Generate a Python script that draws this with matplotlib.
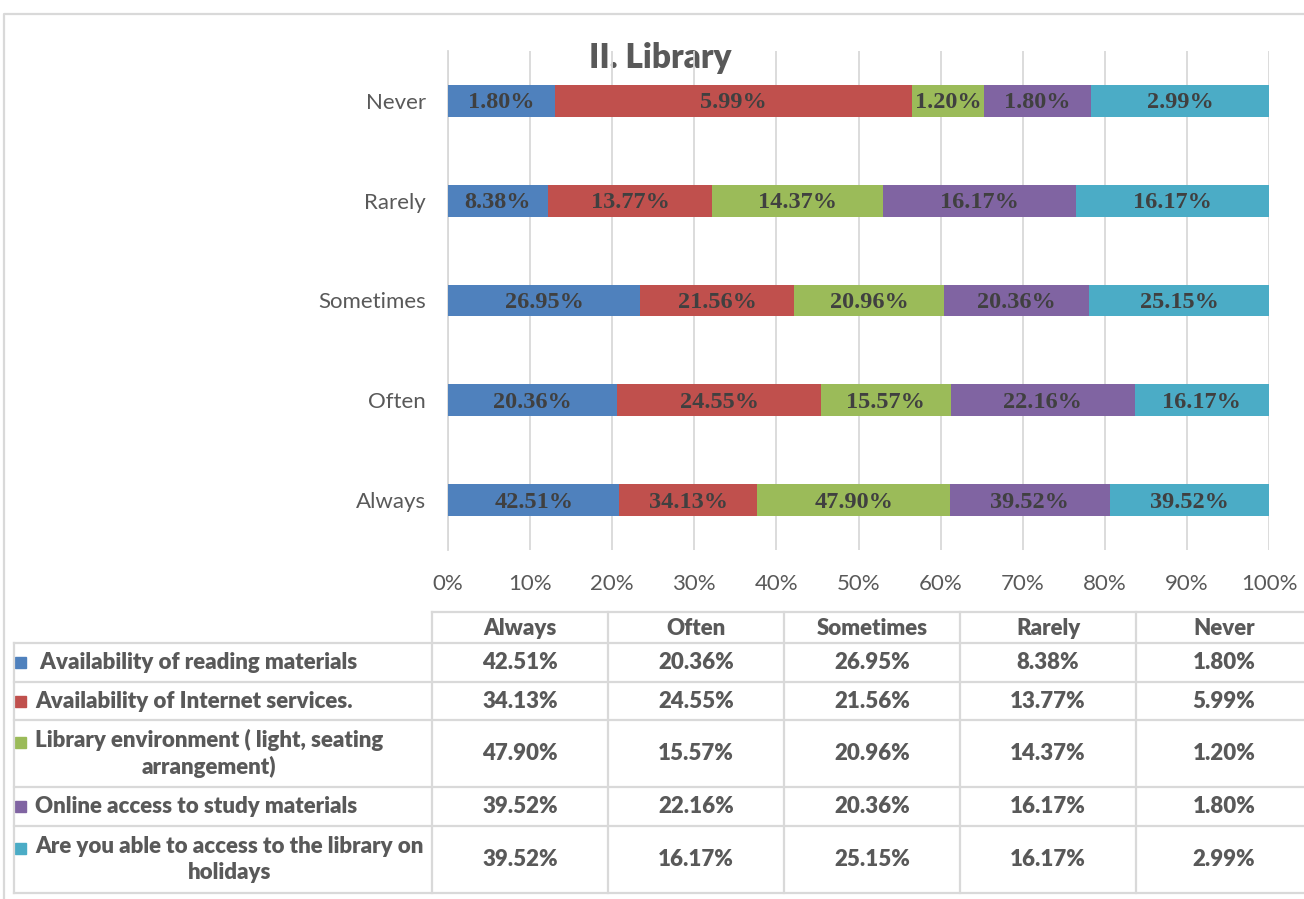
import matplotlib
matplotlib.use("Agg")
import matplotlib.pyplot as plt
import numpy as np

# data
categories = ["Always", "Often", "Sometimes", "Rarely", "Never"]
items = [" Availability of reading materials",
         "Availability of Internet services.",
         "Library environment ( light, seating\narrangement)",
         "Online access to study materials",
         "Are you able to access to the library on\nholidays"]
reading = [42.51, 20.36, 26.95, 8.38, 1.80]
internet = [34.13, 24.55, 21.56, 13.77, 5.99]
environment = [47.90, 15.57, 20.96, 14.37, 1.20]
online = [39.52, 22.16, 20.36, 16.17, 1.80]
holidays = [39.52, 16.17, 25.15, 16.17, 2.99]
colors = ["#4f81bd", "#c0504d", "#9bbb59", "#8064a2", "#4bacc6"]

series = [reading, internet, environment, online, holidays]
vals = np.array(series)            # items x categories
shares = vals / vals.sum(axis=0)   # 100% stacked per category

sans = ["Lato", "DejaVu Sans"]
serif = ["Liberation Serif", "DejaVu Serif"]
grid_c = "#d9d9d9"
txt_c = "#595959"

W, H = 1304, 899
fig = plt.figure(figsize=(W / 100, H / 100), dpi=100)

# pixel overlay for frame, title and table
ov = fig.add_axes([0, 0, 1, 1])
ov.set_xlim(0, W)
ov.set_ylim(H, 0)
ov.axis("off")
ov.patch.set_visible(False)

# chart area
left, right, top, bottom = 448, 1269, 51, 550
ax = fig.add_axes([left / W, 1 - bottom / H, (right - left) / W, (bottom - top) / H])
ypos = np.arange(len(categories))
start = np.zeros(len(categories))
for i, s in enumerate(shares):
    ax.barh(ypos, s, left=start, height=0.32, color=colors[i], zorder=3)
    for j in range(len(categories)):
        ax.text(start[j] + s[j] / 2, ypos[j] - 0.02, "%.2f%%" % vals[i, j],
                ha="center", va="center", fontsize=17.5, fontweight="bold",
                family=serif, color="#404040", zorder=4)
    start += s

ax.set_xlim(0, 1)
ax.set_ylim(-0.5, len(categories) - 0.5)
ax.set_xticks(np.linspace(0, 1, 11))
ax.set_xticklabels(["%d%%" % v for v in range(0, 101, 10)])
ax.set_yticks(ypos)
ax.set_yticklabels(categories)
ax.grid(axis="x", color=grid_c, lw=1.3, zorder=0)
for sp in ["top", "right", "bottom"]:
    ax.spines[sp].set_visible(False)
ax.spines["left"].set_color(grid_c)
ax.spines["left"].set_linewidth(1.3)
ax.tick_params(length=0, labelcolor=txt_c)
ax.tick_params(axis="x", pad=17, labelsize=16)
ax.tick_params(axis="y", pad=16, labelsize=16)
for lab in ax.get_xticklabels() + ax.get_yticklabels():
    lab.set_family(sans)
ax.patch.set_visible(False)

# outer frame
ov.plot([4, 4, W + 5], [H + 5, 14, 14], color=grid_c, lw=1.6)

# title
ov.text(660, 58, "II. Library", ha="center", va="center", fontsize=24,
        fontweight="heavy", family=sans, color=txt_c)

# data table
col_x = [432, 608, 784, 960, 1136, 1312]
row_y = [612, 643, 682, 720, 787, 826, 893]
lw = 1.6
ov.plot([col_x[0], W + 5], [row_y[0]] * 2, color=grid_c, lw=lw)
for y in row_y[1:]:
    ov.plot([14, W + 5], [y, y], color=grid_c, lw=lw)
ov.plot([14, 14], [row_y[1], row_y[-1]], color=grid_c, lw=lw)
for x in col_x[:-1]:
    ov.plot([x, x], [row_y[0], row_y[-1]], color=grid_c, lw=lw)

tsize = 16
tw = "heavy"
for j, c in enumerate(categories):
    ov.text((col_x[j] + col_x[j + 1]) / 2, (row_y[0] + row_y[1]) / 2 + 1, c,
            ha="center", va="center", fontsize=tsize, fontweight=tw,
            family=sans, color=txt_c)

for i, name in enumerate(items):
    y0, y1 = row_y[i + 1], row_y[i + 2]
    yc = (y0 + y1) / 2
    nlines = name.count("\n") + 1
    first = yc - (nlines - 1) * 11.5
    ov.add_patch(plt.Rectangle((15, first - 5.5), 11, 11, color=colors[i]))
    ov.text(35, yc, name, ha="left", va="center", multialignment="center",
            fontsize=tsize, fontweight=tw, family=sans, color=txt_c,
            linespacing=1.25)
    for j in range(len(categories)):
        ov.text((col_x[j] + col_x[j + 1]) / 2, yc, "%.2f%%" % vals[i, j],
                ha="center", va="center", fontsize=tsize, fontweight=tw,
                family=sans, color=txt_c)

fig.savefig("out.png", dpi=100)
